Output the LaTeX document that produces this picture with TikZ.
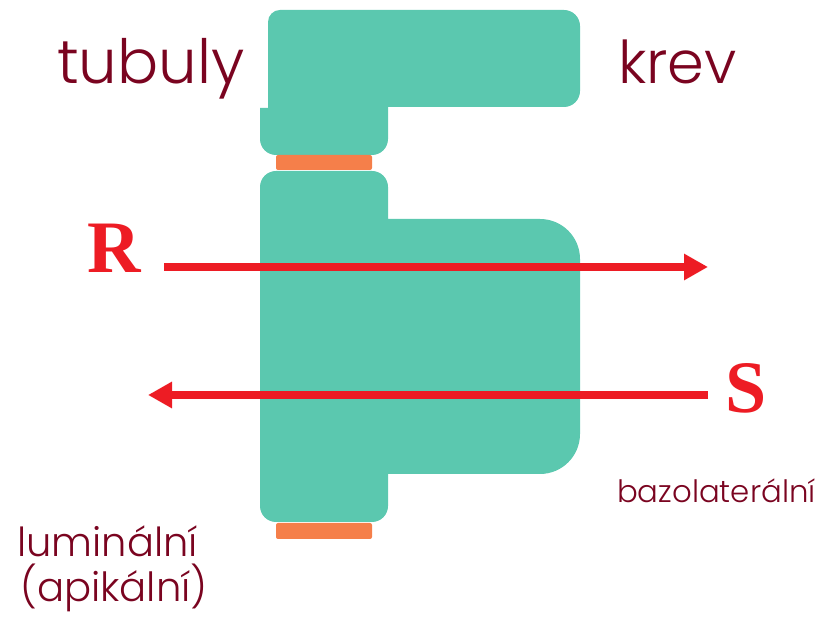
\documentclass[tikz,border=0pt]{standalone}
\usepackage{fontspec}
\setmainfont{Poppins}[UprightFont=* Light]
\newfontfamily\serifbold{Liberation Serif}
\usetikzlibrary{arrows.meta}
\definecolor{cellc}{RGB}{91,200,175}
\definecolor{tjc}{RGB}{245,127,74}
\definecolor{arrc}{RGB}{237,28,36}
\definecolor{labc}{RGB}{122,4,32}
\tikzset{
  cell/.style={fill=cellc},
  junction/.style={fill=tjc, rounded corners=2pt},
  flow/.style={draw=arrc, line width=8pt, -{Triangle[length=24pt,width=25pt]}},
  bigletter/.style={text=arrc, font=\serifbold\bfseries\fontsize{74}{74}\selectfont, inner sep=0pt},
  lab/.style={text=labc, inner sep=0pt},
}
\begin{document}
\begin{tikzpicture}[x=1pt,y=1pt]
\useasboundingbox (0,0) rectangle (823,618);
% upper cell
\path[cell] (268,510) -- (268,596) arc[start angle=180,end angle=90,radius=12]
  -- (564,608) arc[start angle=90,end angle=0,radius=16]
  -- (580,527) arc[start angle=0,end angle=-90,radius=16]
  -- (388,511) -- (388,479) arc[start angle=0,end angle=-90,radius=16]
  -- (276,463) arc[start angle=-90,end angle=-180,radius=16]
  -- (260,510) -- cycle;
% middle cell
\path[cell] (260,112) -- (260,431) arc[start angle=180,end angle=90,radius=16]
  -- (372,447) arc[start angle=90,end angle=0,radius=16]
  -- (388,399) -- (540,399) arc[start angle=90,end angle=0,radius=40]
  -- (580,184) arc[start angle=0,end angle=-90,radius=40]
  -- (388,144) -- (388,112) arc[start angle=0,end angle=-90,radius=16]
  -- (276,96) arc[start angle=-90,end angle=-180,radius=16] -- cycle;
% tight junctions
\path[junction] (276,448) rectangle (372,463);
\path[junction] (276,79) rectangle (372,95);
% arrows
\coordinate (rstart) at (164,351);
\coordinate (rend) at (708,351);
\coordinate (sstart) at (708,223);
\coordinate (send) at (148,223);
\draw[flow] (rstart) -- (rend);
\draw[flow] (sstart) -- (send);
% letters
\node[bigletter, anchor=base] (R) at (114,345) {R};
\node[bigletter, anchor=base] (S) at (746,205) {S};
% labels
\node[lab, anchor=base west, font=\fontsize{61}{61}\selectfont] (tub) at (57,534) {tubuly};
\node[lab, anchor=base west, font=\fontsize{59}{59}\selectfont] (krev) at (618,534) {krev};
\node[lab, anchor=base west, font=\fontsize{30.8}{30.8}\selectfont] (bazo) at (617,115) {bazolaterální};
\node[lab, anchor=base west, font=\fontsize{40}{40}\selectfont] (lum) at (17,61) {luminální};
\node[lab, anchor=base west, font=\fontsize{40.2}{40.2}\selectfont] (api) at (20,16) {(apikální)};
\end{tikzpicture}
\end{document}
